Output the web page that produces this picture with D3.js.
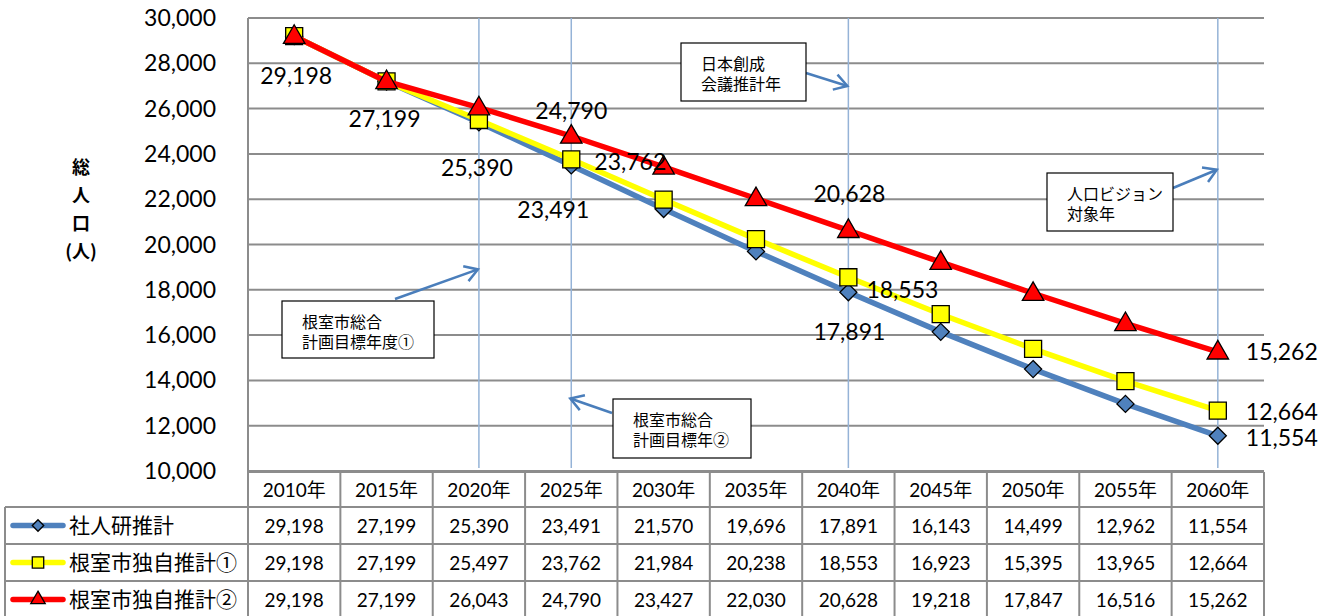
<!DOCTYPE html>
<html>
<head>
<meta charset="utf-8">
<script src="https://cdn.jsdelivr.net/npm/d3@7"></script>
<style>
  body { margin: 0; background: #fff; }
  svg { display: block; }
  text { font-family: "Lato", "Noto Sans CJK JP", sans-serif; fill: #000; }
  .jp { font-family: "Noto Sans CJK JP", sans-serif; }
</style>
</head>
<body>
<svg id="chart" width="1331" height="616"></svg>
<script>
// data
var years = ["2010年","2015年","2020年","2025年","2030年","2035年","2040年","2045年","2050年","2055年","2060年"];
var shajinken = [29198, 27199, 25390, 23491, 21570, 19696, 17891, 16143, 14499, 12962, 11554];
var dokuji1 = [29198, 27199, 25497, 23762, 21984, 20238, 18553, 16923, 15395, 13965, 12664];
var dokuji2 = [29198, 27199, 26043, 24790, 23427, 22030, 20628, 19218, 17847, 16516, 15262];
var seriesNames = ["社人研推計", "根室市独自推計①", "根室市独自推計②"];
var yTicks = [10000, 12000, 14000, 16000, 18000, 20000, 22000, 24000, 26000, 28000, 30000];
var markedYears = ["2020年", "2025年", "2040年", "2060年"];
var notes = ["根室市総合\n計画目標年度①", "根室市総合\n計画目標年②", "日本創成\n会議推計年", "人口ビジョン\n対象年"];

var svg = d3.select("#chart");
var pLeft = 248, pRight = 1264, pTop = 18, pBottom = 471;
var fmt = d3.format(",");

var x = d3.scaleBand().domain(years).range([pLeft, pRight]);
var y = d3.scaleLinear().domain([10000, 30000]).range([pBottom, pTop]);
var cx = function(d) { return x(d) + x.bandwidth() / 2; };

var series = [
  {name: seriesNames[0], values: shajinken, color: "#4F81BD", shape: d3.symbolDiamond2, size: 185},
  {name: seriesNames[1], values: dokuji1, color: "#FFFF00", shape: d3.symbolSquare, size: 290},
  {name: seriesNames[2], values: dokuji2, color: "#FF0000", shape: d3.symbolTriangle, size: 200}
];

// gridlines
svg.append("g").selectAll("line").data(yTicks).enter().append("line")
  .attr("x1", pLeft).attr("x2", pRight)
  .attr("y1", d => y(d)).attr("y2", d => y(d))
  .attr("stroke", "#8c8c8c").attr("stroke-width", 2);

// y axis labels
svg.append("g").selectAll("text").data(yTicks).enter().append("text")
  .attr("x", 216).attr("y", d => y(d) + 8)
  .attr("text-anchor", "end").attr("font-size", 23)
  .text(d => fmt(d));

// y title
var ttl = ["総", "人", "口", "(人)"];
svg.append("g").selectAll("text").data(ttl).enter().append("text")
  .attr("class", "jp")
  .attr("x", 81).attr("y", (d, i) => 174 + i * 28)
  .attr("text-anchor", "middle").attr("font-size", 18).attr("font-weight", "bold")
  .text(d => d);

// highlighted year lines
svg.append("g").selectAll("line").data(markedYears).enter().append("line")
  .attr("x1", d => cx(d)).attr("x2", d => cx(d))
  .attr("y1", pTop).attr("y2", pBottom - 3)
  .attr("stroke", "#95B3D7").attr("stroke-width", 1.5);

// left border
svg.append("line").attr("x1", pLeft).attr("x2", pLeft).attr("y1", pTop).attr("y2", 616)
  .attr("stroke", "#8c8c8c").attr("stroke-width", 2);

// lines and markers
var line = d3.line().x((d, i) => cx(years[i])).y(d => y(d));
series.forEach(function(s) {
  svg.append("path").datum(s.values)
    .attr("d", line).attr("fill", "none")
    .attr("stroke", s.color).attr("stroke-width", 5.5).attr("stroke-linejoin", "round");
  svg.append("g").selectAll("path").data(s.values).enter().append("path")
    .attr("d", d3.symbol().type(s.shape).size(s.size))
    .attr("transform", (d, i) => "translate(" + cx(years[i]) + "," + (y(d) + (s.shape === d3.symbolTriangle ? 1 : 0)) + ")")
    .attr("fill", s.color).attr("stroke", "#000").attr("stroke-width", 1.3);
});

// data labels: [series index, year index, dx, dy]
var labelSpots = [
  [2, 0, 2, 40], [2, 1, -2, 38], [0, 2, -2, 46], [2, 3, 0, -25], [1, 3, 59, 3],
  [0, 3, -18, 45], [2, 6, 1, -36], [1, 6, 54, 13], [0, 6, 1, 40],
  [2, 10, 64, 0], [1, 10, 64, 1], [0, 10, 64, 2]
];
svg.append("g").selectAll("text").data(labelSpots).enter().append("text")
  .attr("x", d => cx(years[d[1]]) + d[2])
  .attr("y", d => y(series[d[0]].values[d[1]]) + d[3] + 8)
  .attr("text-anchor", "middle").attr("font-size", 23)
  .text(d => fmt(series[d[0]].values[d[1]]));

// annotation boxes: box [x, y, w, h], arrow head anchored on year line
var boxes = [
  {text: notes[0], b: [282, 301, 152, 57], from: [395, 299], year: "2020年", val: 18900},
  {text: notes[1], b: [613, 399, 138, 59], from: [612, 413], year: "2025年", val: 13200},
  {text: notes[2], b: [681, 43, 125, 58], from: [806, 73], year: "2040年", val: 27000},
  {text: notes[3], b: [1047, 173, 126, 58], from: [1173, 188], year: "2060年", val: 23300}
];
var ann = svg.append("g");
boxes.forEach(function(a) {
  var hx = cx(a.year) - 1, hy = y(a.val);
  var ang = Math.atan2(hy - a.from[1], hx - a.from[0]);
  var L = 15, sp = 0.55;
  ann.append("line").attr("x1", a.from[0]).attr("y1", a.from[1]).attr("x2", hx).attr("y2", hy)
    .attr("stroke", "#4A7EBB").attr("stroke-width", 2.5);
  ann.append("path")
    .attr("d", "M" + (hx - L * Math.cos(ang - sp)) + "," + (hy - L * Math.sin(ang - sp)) +
      "L" + hx + "," + hy +
      "L" + (hx - L * Math.cos(ang + sp)) + "," + (hy - L * Math.sin(ang + sp)))
    .attr("fill", "none").attr("stroke", "#4A7EBB").attr("stroke-width", 2.5)
    .attr("stroke-linejoin", "miter");
  ann.append("rect").attr("x", a.b[0]).attr("y", a.b[1]).attr("width", a.b[2]).attr("height", a.b[3])
    .attr("fill", "#fff").attr("stroke", "#000").attr("stroke-width", 1.2);
  var t = ann.append("text").attr("class", "jp").attr("font-size", 16);
  a.text.split("\n").forEach(function(ln, i) {
    t.append("tspan").attr("x", a.b[0] + 20).attr("y", a.b[1] + 27 + i * 20).text(ln);
  });
});

// data table
var rowY = [472, 507, 544, 581, 618];
var tbl = svg.append("g");
var colEdges = years.map(d => x(d)).concat([pRight]);
colEdges.forEach(function(cxe) {
  tbl.append("line").attr("x1", cxe).attr("x2", cxe).attr("y1", rowY[0]).attr("y2", 616)
    .attr("stroke", "#8c8c8c").attr("stroke-width", 2);
});
tbl.append("line").attr("x1", pLeft).attr("x2", pRight).attr("y1", rowY[0]).attr("y2", rowY[0])
  .attr("stroke", "#8c8c8c").attr("stroke-width", 2);
[1, 2, 3].forEach(function(r) {
  tbl.append("line").attr("x1", 5).attr("x2", pRight).attr("y1", rowY[r]).attr("y2", rowY[r])
    .attr("stroke", "#8c8c8c").attr("stroke-width", 2);
});
tbl.append("line").attr("x1", 5).attr("x2", 5).attr("y1", rowY[1]).attr("y2", 616)
  .attr("stroke", "#8c8c8c").attr("stroke-width", 2);

tbl.selectAll(".hdr").data(years).enter().append("text")
  .attr("x", d => cx(d)).attr("y", 497).attr("text-anchor", "middle").attr("font-size", 19)
  .text(d => d);

series.forEach(function(s, r) {
  var my = (rowY[r + 1] + rowY[r + 2]) / 2;
  tbl.append("g").selectAll("text").data(s.values).enter().append("text")
    .attr("x", (d, i) => cx(years[i])).attr("y", my + 7)
    .attr("text-anchor", "middle").attr("font-size", 19)
    .text(d => fmt(d));
  tbl.append("line").attr("x1", 13).attr("x2", 63).attr("y1", my).attr("y2", my)
    .attr("stroke", s.color).attr("stroke-width", 5.5).attr("stroke-linecap", "round");
  tbl.append("path").attr("d", d3.symbol().type(s.shape).size(s.size * 0.45))
    .attr("transform", "translate(38," + my + ")")
    .attr("fill", s.color).attr("stroke", "#000").attr("stroke-width", 1.3);
  tbl.append("text").attr("class", "jp").attr("x", 69).attr("y", my + 7)
    .attr("font-size", 21).text(s.name);
});
</script>
</body>
</html>
